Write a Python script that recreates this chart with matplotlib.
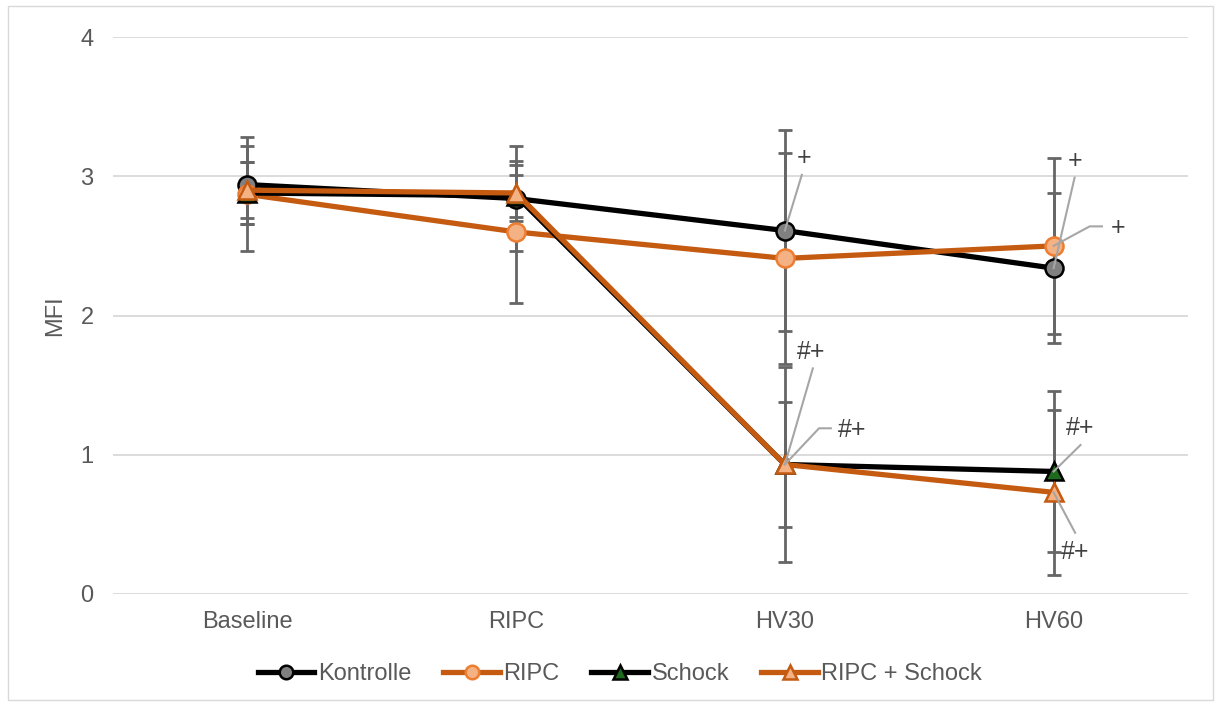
import numpy as np
import matplotlib
matplotlib.use('Agg')
import matplotlib.pyplot as plt

# data
categories = ['Baseline', 'RIPC', 'HV30', 'HV60']
kontrolle = [2.94, 2.84, 2.61, 2.34]
kontrolle_sd = [0.28, 0.38, 0.72, 0.54]
ripc = [2.87, 2.60, 2.41, 2.50]
ripc_sd = [0.41, 0.51, 0.76, 0.63]
schock = [2.88, 2.86, 0.93, 0.88]
schock_sd = [0.22, 0.15, 0.70, 0.58]
ripc_schock = [2.90, 2.88, 0.93, 0.73]
ripc_schock_sd = [0.20, 0.20, 0.45, 0.59]

plt.rcParams['font.family'] = ['Liberation Sans', 'DejaVu Sans']

fig = plt.figure(figsize=(12.16, 7.06), dpi=100)
ax = fig.add_axes([113/1216, 1-594/706, (1188-113)/1216, (594-37)/706])

# outer chart border
fig.patches.append(plt.Rectangle((8/1216, 6/706), 1205/1216, 694/706, transform=fig.transFigure,
                                 fill=False, edgecolor='#d9d9d9', linewidth=1))

x = np.arange(len(categories))
orange = '#C55A11'
errc = '#666666'

series = [
    ('Kontrolle', kontrolle, kontrolle_sd, 'black', 'o', '#808080', 'black'),
    ('RIPC', ripc, ripc_sd, orange, 'o', '#F4B183', '#ED7D31'),
    ('Schock', schock, schock_sd, 'black', '^', '#1E6B1E', 'black'),
    ('RIPC + Schock', ripc_schock, ripc_schock_sd, orange, '^', '#F4B183', orange),
]

for name, vals, sd, lc, mk, mfc, mec in series:
    ax.errorbar(x, vals, yerr=sd, fmt='none', ecolor=errc, elinewidth=2,
                capsize=4.7, capthick=2, zorder=2)
for name, vals, sd, lc, mk, mfc, mec in series:
    ax.plot(x, vals, color=lc, linewidth=3.8, marker=mk, markersize=13,
            markerfacecolor=mfc, markeredgecolor=mec, markeredgewidth=1.8,
            label=name, zorder=3)

ax.set_xlim(-0.5, 3.5)
ax.set_ylim(0, 4)
ax.set_yticks([0, 1, 2, 3, 4])
ax.set_xticks(x)
ax.set_xticklabels(categories)
ax.grid(axis='y', color='#d9d9d9', linewidth=1.3, zorder=0)
ax.set_axisbelow(True)
for s in ax.spines.values():
    s.set_visible(False)
ax.tick_params(length=0, labelsize=17, colors='#595959')
ax.tick_params(axis='x', pad=12)
ax.tick_params(axis='y', pad=14)
ax.set_ylabel('MFI', fontsize=17, color='#595959', labelpad=10)

# significance labels with leader lines
tc = '#404040'
def mark(xp, yp, xe, ye, xt, yt, text, elbow=None):
    px = [xp] + ([elbow[0]] if elbow else []) + [xe]
    py = [yp] + ([elbow[1]] if elbow else []) + [ye]
    ax.plot(px, py, color='#a6a6a6', linewidth=1.5, zorder=4)
    ax.text(xt, yt, text, fontsize=18, color=tc, ha='center', va='center', zorder=5)

mark(2, kontrolle[2], 2.063, 3.01, 2.07, 3.13, '+')
mark(2, schock[2], 2.104, 1.62, 2.097, 1.74, '#+')
mark(2, ripc_schock[2], 2.171, 1.19, 2.25, 1.18, '#+', elbow=(2.127, 1.19))
mark(3, kontrolle[3], 3.078, 2.99, 3.078, 3.11, '+')
mark(3, ripc[3], 3.18, 2.64, 3.24, 2.63, '+', elbow=(3.134, 2.64))
mark(3, schock[3], 3.10, 1.07, 3.10, 1.19, '#+')
mark(3, ripc_schock[3], 3.08, 0.44, 3.08, 0.30, '#+')

leg = fig.legend(*ax.get_legend_handles_labels(), loc='center', bbox_to_anchor=(620/1216, 1-674/706),
                 ncol=4, frameon=False, fontsize=17, handlelength=2.4, handletextpad=0.15,
                 columnspacing=1.35, markerscale=0.75, borderpad=0)
for t in leg.get_texts():
    t.set_color('#595959')

fig.savefig('out.png', dpi=100)
